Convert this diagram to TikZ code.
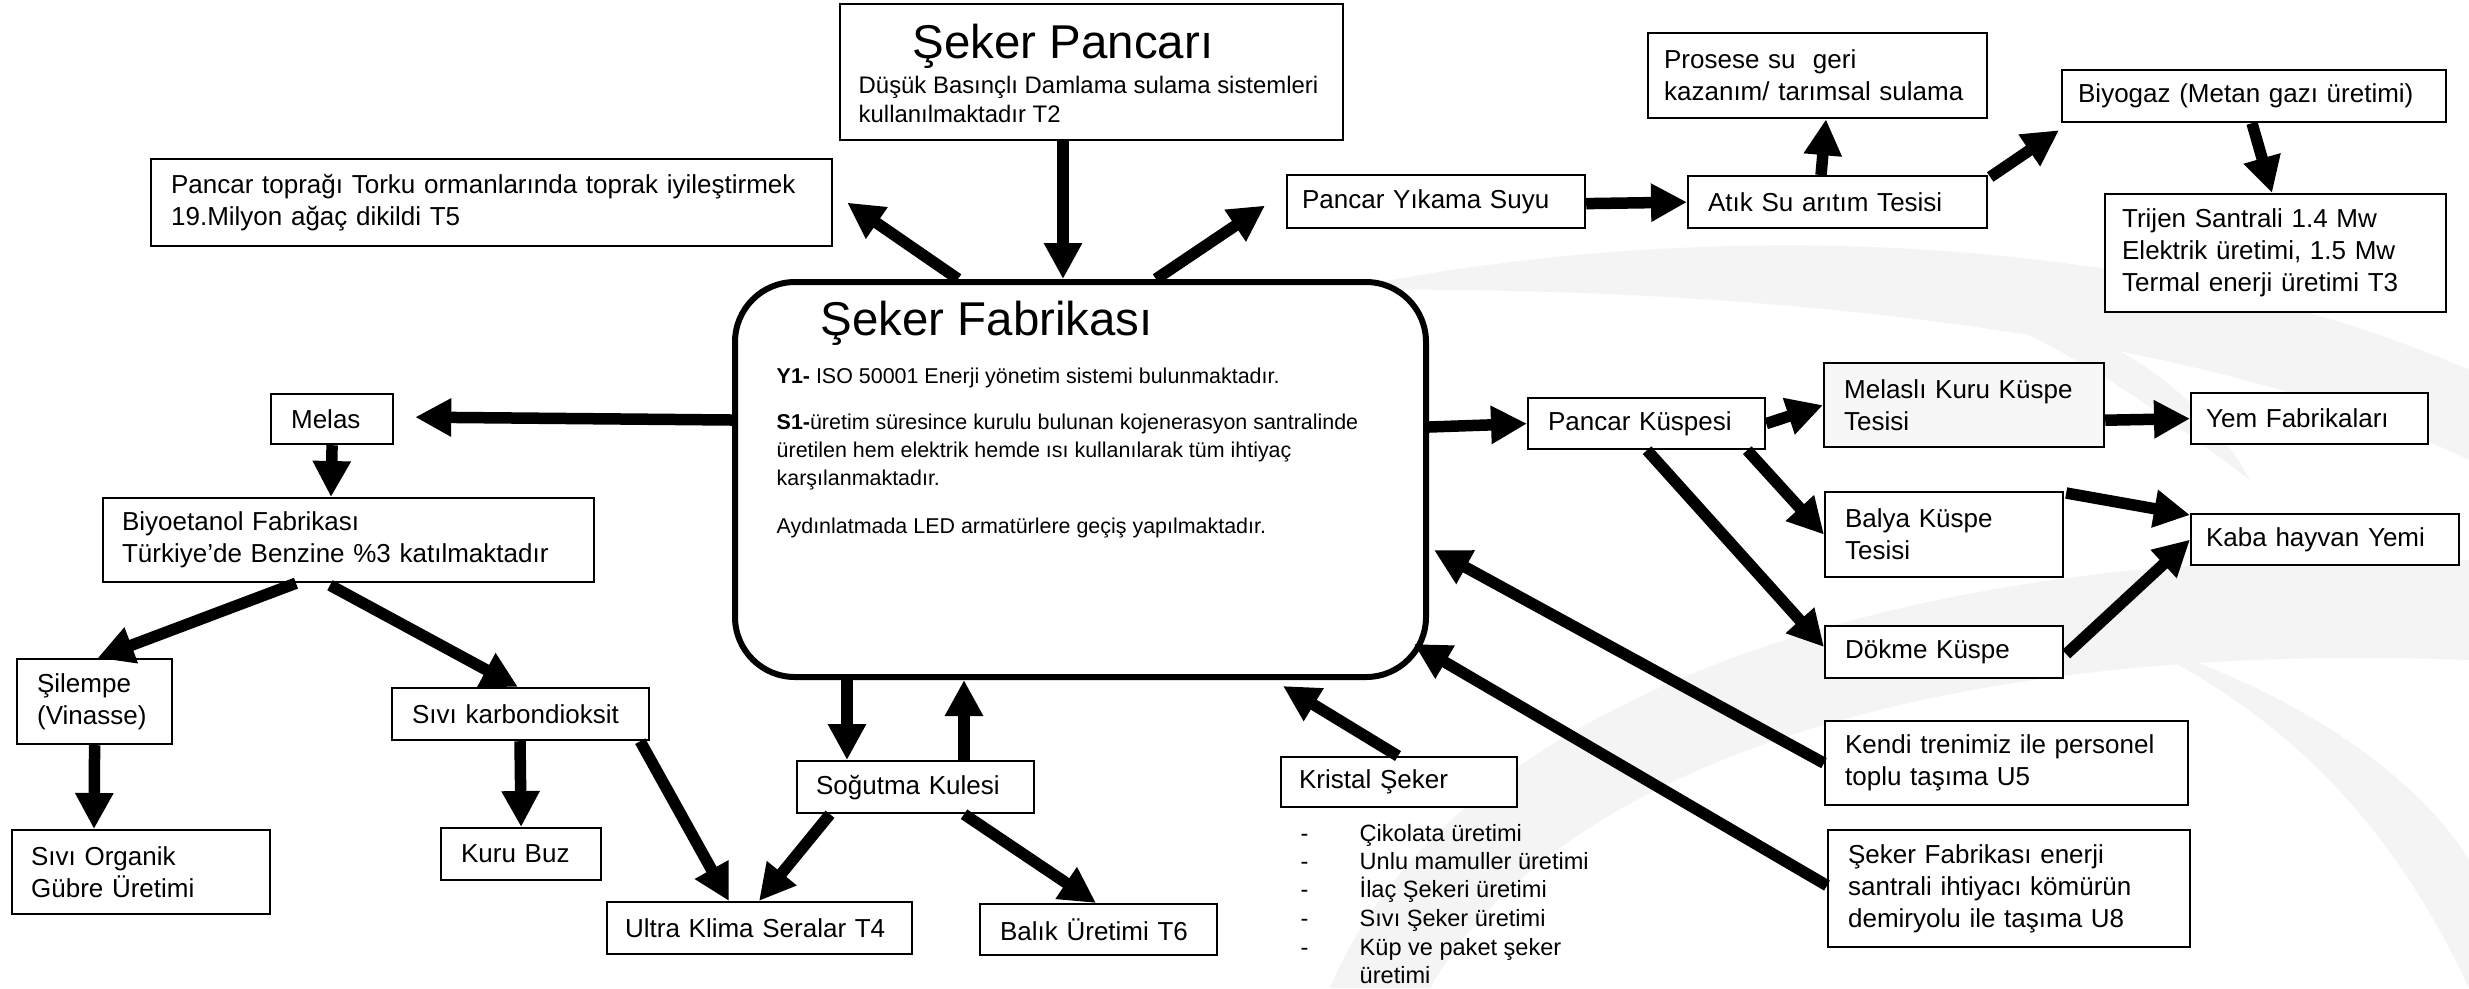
\documentclass[tikz,border=0pt]{standalone}
\usepackage{fontspec}
\setmainfont{Liberation Sans}
\usetikzlibrary{arrows.meta,calc}
\newcommand\szBox{\fontsize{7.4pt}{9.1pt}\selectfont}
\newcommand\szTitle{\fontsize{13.5pt}{16pt}\selectfont}
\newcommand\szSub{\fontsize{6.8pt}{8.3pt}\selectfont}
\newcommand\szBody{\fontsize{6.1pt}{7.8pt}\selectfont}
\newcommand\szList{\fontsize{6.7pt}{8.1pt}\selectfont}
\begin{document}
\begin{tikzpicture}[x=0.1mm,y=-0.1mm,
  bx/.style={draw, line width=0.22mm, fill=white, anchor=north west, inner xsep=2mm, inner ysep=0pt, align=left, font=\szBox},
  txt/.style={inner sep=0pt, anchor=base west},
  arr/.style={line width=1.15mm, -{Triangle[length=3.6mm,width=3.6mm]}},
  wm/.style={fill=gray!9, draw=none}]
\useasboundingbox (0,0) rectangle (2469,988);
\fill[white] (0,0) rectangle (2469,988);
% watermark
\fill[wm] (1340,290) .. controls (1700,215) and (2150,230) .. (2469,370) -- (2469,460) .. controls (2200,330) and (1750,285) .. (1340,290) -- cycle;
\fill[wm] (1950,300) .. controls (2100,315) and (2200,390) .. (2250,480) .. controls (2170,420) and (2080,350) .. (1950,300) -- cycle;
\fill[wm] (1330,988) .. controls (1450,700) and (1900,540) .. (2469,560) -- (2469,660) .. controls (1950,640) and (1560,760) .. (1430,988) -- cycle;
\fill[wm] (2130,640) .. controls (2300,690) and (2420,780) .. (2469,860) -- (2469,988) .. controls (2400,840) and (2300,720) .. (2130,640) -- cycle;

% boxes
\node[bx, minimum width=50.3mm, minimum height=13.6mm] (pancari) at (839,3) {};
\node[txt, font=\szTitle] (pancarititle) at (912,58) {Şeker Pancarı};
\node[txt, font=\szSub] (pancarisub1) at (858,93) {Düşük Basınçlı Damlama sulama sistemleri};
\node[txt, font=\szSub] (pancarisub2) at (858,122) {kullanılmaktadır T2};

\node[bx, minimum width=68.1mm, minimum height=8.7mm, text width=64.1mm] (toprak) at (150,158) {Pancar toprağı Torku ormanlarında toprak iyileştirmek\\19.Milyon ağaç dikildi T5};

\node[draw, line width=0.6mm, rounded corners=6mm, fill=white, anchor=north west, minimum width=69.1mm, minimum height=39.5mm, inner sep=0pt] (fab) at (732,279) {};
\node[txt, font=\szTitle] (fabtitle) at (820,335) {Şeker Fabrikası};
\node[txt, font=\szBody] (faby1) at (776,383) {\textbf{Y1-} ISO 50001 Enerji yönetim sistemi bulunmaktadır.};
\node[txt, font=\szBody] (fabs1a) at (776,429) {\textbf{S1-}üretim süresince kurulu bulunan kojenerasyon santralinde};
\node[txt, font=\szBody] (fabs1b) at (776,457) {üretilen hem elektrik hemde ısı kullanılarak tüm ihtiyaç};
\node[txt, font=\szBody] (fabs1c) at (776,485) {karşılanmaktadır.};
\node[txt, font=\szBody] (fabled) at (776,533) {Aydınlatmada LED armatürlere geçiş yapılmaktadır.};

\node[bx, minimum width=29.8mm, minimum height=5.3mm, inner xsep=1.5mm, text width=26.8mm] (yikama) at (1286,174) {Pancar Yıkama Suyu};
\node[bx, minimum width=29.9mm, minimum height=5.2mm, text width=25.9mm] (atik) at (1687,175) {Atık Su arıtım Tesisi};
\node[bx, minimum width=33.9mm, minimum height=8.5mm, inner xsep=1.6mm, text width=30.7mm] (prosese) at (1647,32) {\mbox{Prosese su\ \ geri}\\\mbox{kazanım/ tarımsal sulama}};
\node[bx, minimum width=38.4mm, minimum height=5.2mm, inner xsep=1.6mm, text width=35.2mm] (biyogaz) at (2061,69) {Biyogaz (Metan gazı üretimi)};
\node[bx, minimum width=34.1mm, minimum height=11.8mm, inner xsep=1.7mm, text width=30.7mm] (trijen) at (2104,193) {Trijen Santrali 1.4 Mw\\Elektrik üretimi, 1.5 Mw\\Termal enerji üretimi T3};

\node[bx, minimum width=12.2mm, minimum height=5.0mm, text width=8.2mm] (melas) at (270,393) {Melas};
\node[bx, minimum width=49.1mm, minimum height=8.4mm, inner xsep=1.9mm, text width=45.3mm] (biyoetanol) at (102,497) {Biyoetanol Fabrikası\\Türkiye’de Benzine \%3 katılmaktadır};
\node[bx, minimum width=15.5mm, minimum height=8.5mm, text width=11.5mm] (silempe) at (16,658) {Şilempe\\(Vinasse)};
\node[bx, minimum width=25.7mm, minimum height=5.2mm, text width=21.7mm] (sivikarb) at (391,687) {Sıvı karbondioksit};
\node[bx, minimum width=25.8mm, minimum height=8.4mm, inner xsep=1.9mm, text width=22.0mm] (organik) at (11,829) {Sıvı Organik\\Gübre Üretimi};
\node[bx, minimum width=16.0mm, minimum height=5.2mm, text width=12.0mm] (kurubuz) at (440,827) {Kuru Buz};
\node[bx, minimum width=30.5mm, minimum height=5.2mm, inner xsep=1.8mm, text width=26.9mm] (ultra) at (606,901) {Ultra Klima Seralar T4};
\node[bx, minimum width=23.7mm, minimum height=5.2mm, inner xsep=1.9mm, text width=19.9mm] (sogutma) at (796,760) {Soğutma Kulesi};
\node[bx, minimum width=23.7mm, minimum height=5.1mm, text width=19.7mm] (balik) at (979,903) {Balık Üretimi T6};
\node[bx, minimum width=23.6mm, minimum height=5.0mm, inner xsep=1.8mm, text width=20.0mm] (kristal) at (1280,756) {Kristal Şeker};

\node[txt, font=\szList] (kd1) at (1300,841) {-};
\node[txt, font=\szList] (kl1) at (1359,841) {Çikolata üretimi};
\node[txt, font=\szList] (kd2) at (1300,869) {-};
\node[txt, font=\szList] (kl2) at (1359,869) {Unlu mamuller üretimi};
\node[txt, font=\szList] (kd3) at (1300,897) {-};
\node[txt, font=\szList] (kl3) at (1359,897) {İlaç Şekeri üretimi};
\node[txt, font=\szList] (kd4) at (1300,926) {-};
\node[txt, font=\szList] (kl4) at (1359,926) {Sıvı Şeker üretimi};
\node[txt, font=\szList] (kd5) at (1300,955) {-};
\node[txt, font=\szList] (kl5) at (1359,955) {Küp ve paket şeker};
\node[txt, font=\szList] (kl6) at (1359,983) {üretimi};

\node[bx, minimum width=36.3mm, minimum height=8.4mm, text width=32.3mm] (kendi) at (1824,720) {Kendi trenimiz ile personel\\toplu taşıma U5};
\node[bx, minimum width=36.2mm, minimum height=11.7mm, text width=32.2mm] (enerji) at (1827,829) {Şeker Fabrikası enerji\\santrali ihtiyacı kömürün\\demiryolu ile taşıma U8};

\node[bx, minimum width=23.7mm, minimum height=5.1mm, text width=19.7mm] (kuspesi) at (1527,397) {Pancar Küspesi};
\node[bx, minimum width=28.0mm, minimum height=8.4mm, text width=24.0mm, fill=gray!6] (melasli) at (1823,362) {Melaslı Kuru Küspe\\Tesisi};
\node[bx, minimum width=23.7mm, minimum height=5.1mm, inner xsep=1.5mm, text width=20.7mm] (yem) at (2190,392) {Yem Fabrikaları};
\node[bx, minimum width=23.8mm, minimum height=8.5mm, text width=19.8mm] (balya) at (1824,491) {Balya Küspe\\Tesisi};
\node[bx, minimum width=26.8mm, minimum height=5.1mm, inner xsep=1.5mm, text width=23.8mm] (kaba) at (2190,513) {Kaba hayvan Yemi};
\node[bx, minimum width=23.8mm, minimum height=5.2mm, text width=19.8mm] (dokme) at (1824,625) {Dökme Küspe};

% arrows
\draw[arr] ($(pancari.south west)+(224,0)$) -- ($(fab.north west)+(331,0)$);
\draw[arr] ($(fab.north west)+(226,0)$) -- ($(toprak.east)+(14,0)$);
\draw[arr] ($(fab.north west)+(424,0)$) -- ($(yikama.west)+(-21,4)$);
\draw[arr] ($(yikama.east)+(0,2)$) -- (atik.west);
\draw[arr] ($(atik.north west)+(134,0)$) -- ($(prosese.south west)+(179,0)$);
\draw[arr] ($(atik.north east)+(2,2)$) -- ($(biyogaz.south west)+(-2,7)$);
\draw[arr] ($(biyogaz.south west)+(191,0)$) -- ($(trijen.north west)+(168,0)$);
\draw[arr] ($(fab.north west)+(0,141)$) -- ($(melas.east)+(21,-2)$);
\draw[arr] (melas.south) -- ($(biyoetanol.north west)+(229,0)$);
\draw[arr] ($(biyoetanol.south west)+(194,0)$) -- ($(silempe.north)+(3,0)$);
\draw[arr] ($(biyoetanol.south west)+(228,2)$) -- ($(sivikarb.north west)+(127,0)$);
\draw[arr] (silempe.south) -- ($(organik.north west)+(83,0)$);
\draw[arr] ($(sivikarb.south west)+(129,0)$) -- (kurubuz.north);
\draw[arr] ($(sivikarb.south east)+(-10,0)$) -- ($(ultra.north west)+(123,0)$);
\draw[arr] ($(fab.south west)+(115,0)$) -- ($(sogutma.north west)+(51,0)$);
\draw[arr] ($(sogutma.north west)+(168,0)$) -- ($(fab.south west)+(232,0)$);
\draw[arr] ($(sogutma.south west)+(34,0)$) -- ($(ultra.north west)+(153,0)$);
\draw[arr] ($(sogutma.south west)+(168,0)$) -- ($(balik.north west)+(117,0)$);
\draw[arr] ($(kristal.north west)+(118,0)$) -- ($(fab.south west)+(551,6)$);
\draw[arr] (kendi.west) -- ($(fab.north east)+(5,271)$);
\draw[arr] ($(enerji.west)+(0,-3)$) -- ($(fab.south east)+(-15,-36)$);
\draw[arr] ($(fab.north east)+(0,148)$) -- (kuspesi.west);
\draw[arr] (kuspesi.east) -- (melasli.west);
\draw[arr] ($(melasli.south east)+(0,-28)$) -- (yem.west);
\draw[arr] ($(kuspesi.south east)+(-19,0)$) -- (balya.west);
\draw[arr] ($(kuspesi.south west)+(120,0)$) -- ($(dokme.north west)+(0,22)$);
\draw[arr] ($(balya.north east)+(2,2)$) -- ($(kaba.north west)+(0,2)$);
\draw[arr] ($(dokme.east)+(2,2)$) -- (kaba.west);
\end{tikzpicture}
\end{document}
